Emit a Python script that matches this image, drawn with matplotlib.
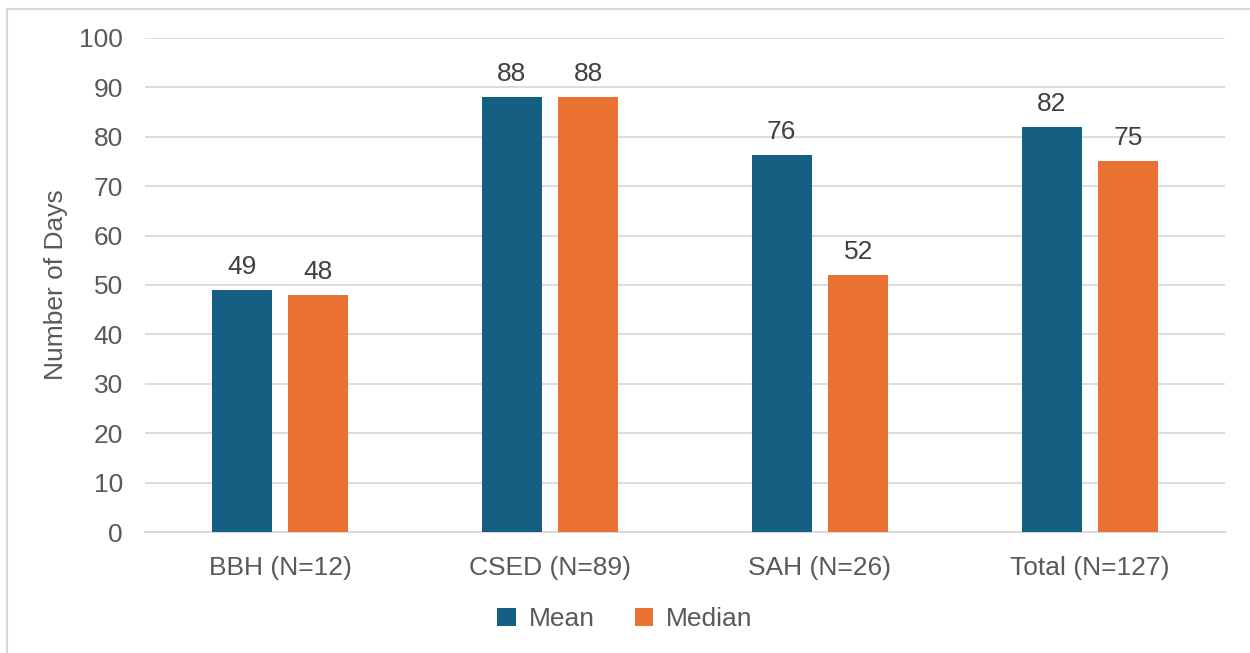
import numpy as np
import matplotlib.pyplot as plt
from matplotlib.patches import Rectangle

# Days per program, mean vs median
categories = ['BBH (N=12)', 'CSED (N=89)', 'SAH (N=26)', 'Total (N=127)']
mean_days = [49, 88, 76.3, 82]
median_days = [48, 88, 52, 75]

plt.rcParams['font.family'] = ['Liberation Sans', 'DejaVu Sans']
text_color = '#595959'
fs = 19

fig = plt.figure(figsize=(12.5, 6.53), dpi=100)
ax = fig.add_axes([145 / 1250, 1 - 532 / 653, 1080 / 1250, 494 / 653])

x = np.arange(len(categories))
width = 0.222
offset = 0.142
b1 = ax.bar(x - offset, mean_days, width, color='#156082', label='Mean', zorder=3)
b2 = ax.bar(x + offset, median_days, width, color='#E97132', label='Median', zorder=3)

for bars in (b1, b2):
    ax.bar_label(bars, fmt='%.0f', padding=8, fontsize=fs, color='#404040')

ax.set_xlim(-0.5, len(categories) - 0.5)
ax.set_ylim(0, 100)
ax.set_yticks(range(0, 101, 10))
ax.set_xticks(x)
ax.set_xticklabels(categories)
ax.tick_params(axis='both', length=0, labelsize=fs, labelcolor=text_color)
ax.tick_params(axis='y', pad=16)
ax.tick_params(axis='x', pad=17)
ax.grid(axis='y', color='#D9D9D9', linewidth=1.3, zorder=0)
for side in ['top', 'right', 'left']:
    ax.spines[side].set_visible(False)
ax.spines['bottom'].set_color('#D9D9D9')
ax.spines['bottom'].set_linewidth(1.5)

ax.set_ylabel('Number of Days', fontsize=fs, color=text_color, labelpad=8)

ax.legend(loc='center', bbox_to_anchor=(0.5, (653 - 619) / 653), bbox_transform=fig.transFigure,
          ncol=2, frameon=False, fontsize=fs, labelcolor=text_color,
          handlelength=0.7, handleheight=0.7, handletextpad=0.5, columnspacing=1.5)

# light frame around the chart area
fig.patches.append(Rectangle((7 / 1250, -0.05), 1.1, 1 - 9 / 653 + 0.05, transform=fig.transFigure,
                             fill=False, edgecolor='#D9D9D9', linewidth=1.5))

fig.savefig('out.png', dpi=100)
